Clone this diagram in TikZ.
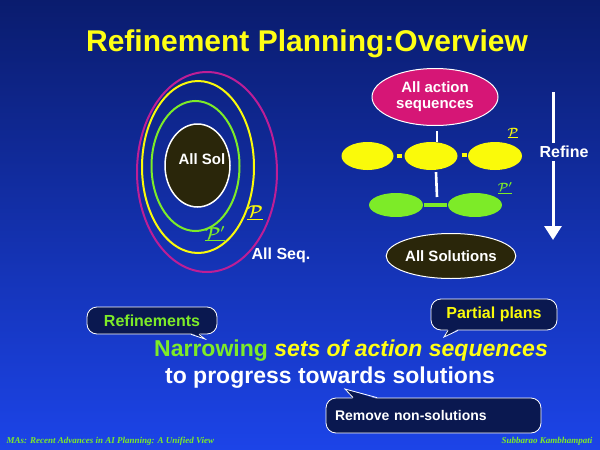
\documentclass[tikz,border=0pt]{standalone}
\usepackage{fontspec}
\setmainfont{Liberation Sans}
\newfontfamily\footfont{Liberation Serif}
\usetikzlibrary{arrows.meta,shapes.geometric,calc}
\definecolor{bgtop}{RGB}{10,28,110}
\definecolor{bgmid}{RGB}{18,48,170}
\definecolor{bgbot}{RGB}{28,68,232}
\definecolor{ttl}{RGB}{255,255,20}
\definecolor{lime}{RGB}{125,235,40}
\definecolor{ylw}{RGB}{250,250,10}
\definecolor{mag}{RGB}{214,22,118}
\definecolor{ring}{RGB}{190,30,150}
\definecolor{olive}{RGB}{42,38,10}
\definecolor{navy}{RGB}{10,24,80}
\tikzset{
  fnt/.style={font=\fontsize{#1}{#1}\selectfont\bfseries},
  oval/.style={ellipse, inner sep=0pt},
  conn/.style={draw=white, line width=2.6pt},
  callbox/.style={draw=white, line width=0.8pt, fill=navy, rounded corners=10pt, inner sep=0pt},
  ptr/.style={draw=white, line width=0.8pt},
  ptrfill/.style={fill=navy},
  plab/.style={font=\fontsize{#1}{#1}\selectfont},
}
\newcommand{\ulP}[1]{\underline{\boldmath$\mathcal{P}#1$}}
\begin{document}
\begin{tikzpicture}[x=1pt,y=-1pt]
\useasboundingbox (0,0) rectangle (600,450);
\shade[top color=bgtop, middle color=bgmid, bottom color=bgbot] (0,0) rectangle (600,450);

% title
\node[fnt=30, text=ttl] (title) at (307,44) {Refinement Planning:Overview};

% left nested ellipses
\draw[ring, line width=2pt] (207,172) ellipse [x radius=70pt, y radius=100pt];
\draw[ylw, line width=2pt] (198,167) ellipse [x radius=56pt, y radius=86pt];
\draw[lime, line width=2pt] (195.5,166) ellipse [x radius=44pt, y radius=65pt];
\node[oval, fill=olive, draw=white, line width=1.5pt, minimum width=65pt, minimum height=83pt] (allsol) at (197.5,165.5) {};
\node[fnt=15, text=white] (allsoltxt) at (202,159) {All Sol};
\node[text=ylw, plab=16] (pl) at (255,213) {\ulP{}};
\node[text=lime, plab=16] (pgl) at (215,234) {\ulP{'}};
\node[text=white, fnt=16] (allseq) at (281,255) {All Seq.};

% right tree
\node[oval, fill=mag, draw=white, line width=1pt, minimum width=126pt, minimum height=57pt, align=center, fnt=15, text=white] (am) at (435,97) {All action\\[1pt]sequences};
\node[oval, fill=ylw, minimum width=52pt, minimum height=28pt] (y1) at (367.5,156) {};
\node[oval, fill=ylw, minimum width=53pt, minimum height=28pt] (y2) at (431,156) {};
\node[oval, fill=ylw, minimum width=54pt, minimum height=28pt] (y3) at (495,156) {};
\node[oval, fill=lime, minimum width=54pt, minimum height=24pt] (g1) at (396,205) {};
\node[oval, fill=lime, minimum width=54pt, minimum height=24pt] (g2) at (475,205) {};
\node[oval, fill=olive, draw=white, line width=1pt, minimum width=116pt, minimum height=45pt, fnt=15, text=white] (sol) at (451,256) {All Solutions};
\node[text=ylw, plab=13] (pr) at (513,133) {\ulP{}};
\node[text=lime, plab=13] (pgr) at (505,188) {\ulP{'}};

\coordinate (gtop) at (437,197);
\draw[conn] ($(am.south)+(2pt,-5pt)$) -- ([xshift=6pt]y2.north);
\draw[conn] ($(y2.south)+(5pt,-2pt)$) -- (gtop);
\draw[ylw, line width=4pt, shorten <=3pt, shorten >=2pt] (y1.east) -- (y2.west);
\draw[ylw, line width=4pt, shorten <=4pt, shorten >=1pt] ([yshift=1.5pt]y2.east) -- ([yshift=1.5pt]y3.west);
\draw[lime, line width=4.5pt, shorten <=1pt, shorten >=1pt] (g1.east) -- (g2.west);

% refine arrow
\node[fnt=16, text=white] (refine) at (564,152) {Refine};
\coordinate (rtop) at (553,92);
\coordinate (rbot) at (553,240);
\draw[white, line width=3pt] (rtop) -- (rtop |- refine.north);
\draw[white, line width=3pt, -{Triangle[width=17pt,length=14pt]}] (rtop |- refine.south) -- (rbot);

% callouts
\node[callbox, minimum width=130pt, minimum height=27pt, fnt=16, text=lime] (refbox) at (152,320.5) {Refinements};
\coordinate (reftip) at (205,339);
\fill[ptrfill] (191,333) -- (reftip) -- (199,333) -- cycle;
\draw[ptr] (191,334.4) -- (reftip) -- (199,334.4);

\node[callbox, minimum width=126pt, minimum height=31pt, fnt=16, text=ylw] (partbox) at (494,314.5) {Partial plans};
\coordinate (parttip) at (444,337);
\fill[ptrfill] (448,329) -- (parttip) -- (458,329) -- cycle;
\draw[ptr] (448,330.4) -- (parttip) -- (458,330.4);

\node[callbox, minimum width=215pt, minimum height=35pt, text width=197pt, align=left, inner xsep=9pt, fnt=14, text=white] (rembox) at (433.5,415.5) {Remove non-solutions};
\coordinate (remtip) at (345,389);
\fill[ptrfill] (353,399) -- (remtip) -- (377,399) -- cycle;
\draw[ptr] (353,397.6) -- (remtip) -- (377,397.6);

% main text
\node[fnt=23, text=lime] (line1) at (351,351) {Narrowing \textcolor{ttl}{\itshape sets of action sequences}};
\node[fnt=23, text=white] (line2) at (330,378) {to progress towards solutions};

% footers
\node[anchor=west, text=lime, font=\footfont\fontsize{9}{9}\selectfont\bfseries\itshape] (footl) at (3,441) {MAs: Recent Advances in AI Planning: A Unified View};
\node[anchor=east, text=lime, font=\footfont\fontsize{9}{9}\selectfont\bfseries\itshape] (footr) at (596,441) {Subbarao Kambhampati};
\end{tikzpicture}
\end{document}
